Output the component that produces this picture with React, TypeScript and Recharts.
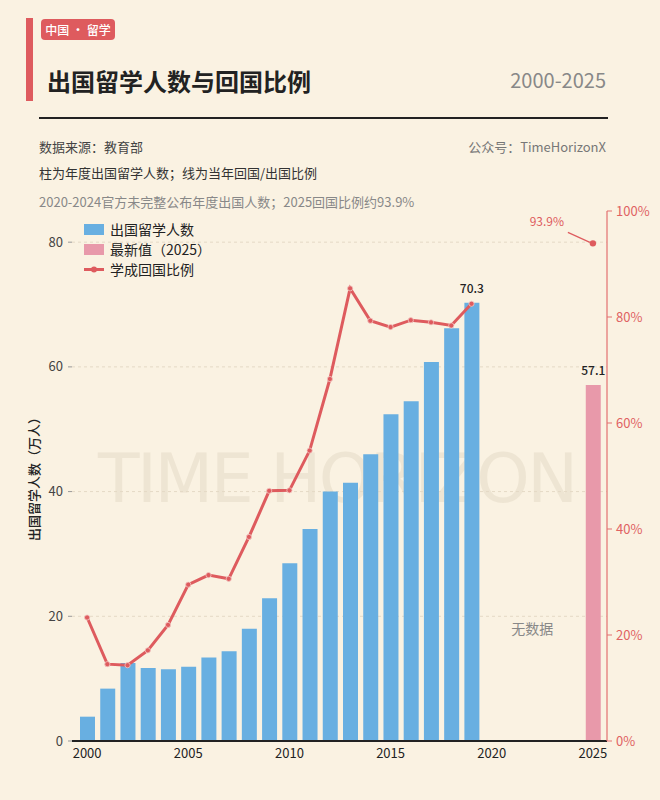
import { Bar, CartesianGrid, ComposedChart, LabelList, Legend, Line, ReferenceDot, XAxis, YAxis } from 'recharts';

// 年份（类目）
const years = [
  '2000', '2001', '2002', '2003', '2004', '2005', '2006', '2007', '2008', '2009', '2010', '2011', '2012',
  '2013', '2014', '2015', '2016', '2017', '2018', '2019', '2020', '2021', '2022', '2023', '2024', '2025',
];

// 出国留学人数（万人），2020-2024 无数据
const students = [
  3.9, 8.4, 12.5, 11.7, 11.5, 11.9, 13.4, 14.4, 18.0, 22.9, 28.5, 34.0, 40.0,
  41.4, 46.0, 52.4, 54.5, 60.8, 66.2, 70.3, null, null, null, null, null, null,
];

// 最新值（2025）
const latest = [
  null, null, null, null, null, null, null, null, null, null, null, null, null,
  null, null, null, null, null, null, null, null, null, null, null, null, 57.1,
];

// 学成回国比例（%）
const returnRatio = [
  23.3, 14.5, 14.3, 17.1, 21.9, 29.5, 31.3, 30.6, 38.5, 47.2, 47.3, 54.8, 68.3,
  85.4, 79.3, 78.1, 79.4, 79.0, 78.4, 82.5, null, null, null, null, null, 93.9,
];

const xTicks = ['2000', '2005', '2010', '2015', '2020', '2025'];
const leftTicks = [0, 20, 40, 60, 80];
const rightTicks = [0, 20, 40, 60, 80, 100];

const BG = '#faf2e2';
const BLUE = '#68afe1';
const PINK = '#e899aa';
const RED = '#de5b5e';
const FONT = '"Noto Sans CJK SC", "Noto Sans", sans-serif';

const data = years.map((year, i) => ({
  year,
  students: students[i],
  latest: latest[i],
  ratio: returnRatio[i],
}));

const legendItems = [
  { label: '出国留学人数', kind: 'bar', color: BLUE },
  { label: '最新值（2025）', kind: 'bar', color: PINK },
  { label: '学成回国比例', kind: 'line', color: RED },
];

function ChartLegend() {
  return (
    <div style={{ fontFamily: FONT }}>
      {legendItems.map((item) => (
        <div key={item.label} style={{ display: 'flex', alignItems: 'center', height: 20 }}>
          {item.kind === 'bar' ? (
            <span style={{ width: 20, height: 11, background: item.color, display: 'inline-block' }} />
          ) : (
            <svg width={20} height={11}>
              <line x1={0} y1={5.5} x2={20} y2={5.5} stroke={item.color} strokeWidth={3} />
              <circle cx={10} cy={5.5} r={3} fill={item.color} />
            </svg>
          )}
          <span style={{ marginLeft: 6, fontSize: 14, color: '#222' }}>{item.label}</span>
        </div>
      ))}
    </div>
  );
}

function valueText(x: number, y: number, width: number, value: any) {
  return (
    <text x={x + width / 2} y={y - 10} textAnchor="middle" fontSize={12} fontWeight={500} fill="#222">
      {value}
    </text>
  );
}

// 只标最后一个有数据的年份
function StudentsLabel(props: any) {
  const { x, y, width, value } = props;
  if (value == null || value !== students[19]) return null;
  return valueText(x, y, width, value);
}

function LatestLabel(props: any) {
  const { x, y, width, value } = props;
  if (value == null) return null;
  return valueText(x, y, width, value);
}

function LatestRatioLabel(props: any) {
  const { x, y, value, index } = props;
  if (value == null || years[index] !== '2025') return null;
  return (
    <g>
      <line x1={x - 25} y1={y - 11} x2={x - 3} y2={y - 1} stroke={RED} strokeWidth={1.2} />
      <text x={x - 46} y={y - 17} textAnchor="middle" fontSize={12} fill={RED}>
        {value}%
      </text>
    </g>
  );
}

function RatioDot(props: any) {
  const { cx, cy, index, value } = props;
  if (value == null || cx == null || cy == null) return null;
  const last = years[index] === '2025';
  return <circle key={index} cx={cx} cy={cy} r={last ? 3.2 : 2.6} fill={RED} stroke="#f3c9c4" strokeWidth={last ? 0 : 0.8} />;
}

export default function App() {
  return (
    <div
      style={{
        position: 'absolute',
        left: 0,
        top: 0,
        width: 660,
        height: 800,
        background: BG,
        fontFamily: FONT,
        overflow: 'hidden',
      }}
    >
      {/* 头部 */}
      <div style={{ position: 'absolute', left: 26, top: 18, width: 7, height: 83, background: RED }} />
      <div
        style={{
          position: 'absolute',
          left: 41,
          top: 19,
          width: 74,
          height: 21,
          borderRadius: 4,
          background: RED,
          color: '#fff',
          fontSize: 12,
          fontWeight: 500,
          lineHeight: '21px',
          textAlign: 'center',
        }}
      >
        中国 · 留学
      </div>
      <div style={{ position: 'absolute', left: 47, top: 67, fontSize: 24, fontWeight: 700, color: '#222', lineHeight: '28px' }}>
        出国留学人数与回国比例
      </div>
      <div style={{ position: 'absolute', right: 54, top: 66, fontSize: 20, color: '#888', lineHeight: '28px' }}>2000-2025</div>
      <div style={{ position: 'absolute', left: 39, top: 117, width: 569, height: 2, background: '#222' }} />
      <div style={{ position: 'absolute', left: 39, top: 137, fontSize: 13, color: '#444', lineHeight: '20px' }}>数据来源：教育部</div>
      <div style={{ position: 'absolute', right: 54, top: 137, fontSize: 13, color: '#777', lineHeight: '20px' }}>
        公众号：TimeHorizonX
      </div>
      <div style={{ position: 'absolute', left: 39, top: 163, fontSize: 13, color: '#333', lineHeight: '20px' }}>
        柱为年度出国留学人数；线为当年回国/出国比例
      </div>
      <div style={{ position: 'absolute', left: 39, top: 192, fontSize: 13, color: '#888', lineHeight: '20px' }}>
        2020-2024官方未完整公布年度出国人数；2025回国比例约93.9%
      </div>

      {/* 水印 */}
      <svg width={660} height={800} style={{ position: 'absolute', left: 0, top: 0 }}>
        <text
          x={338}
          y={502}
          textAnchor="middle"
          fontSize={68}
          textLength={480}
          lengthAdjust="spacing"
          fill="#eee5d3"
          fontFamily='"DejaVu Sans", sans-serif'
        >
          TIME HORIZON
        </text>
      </svg>

      <div style={{ position: 'absolute', left: 0, top: 0 }}>
        <ComposedChart width={660} height={800} data={data} margin={{ top: 211, right: 3, bottom: 29, left: 0 }}>
          <CartesianGrid yAxisId="left" vertical={false} syncWithTicks stroke="#e4d9c5" strokeDasharray="3 3" />
          <XAxis
            dataKey="year"
            ticks={xTicks}
            interval={0}
            padding={{ left: 5, right: 4 }}
            height={30}
            tickLine={false}
            tickSize={6}
            tickMargin={2}
            axisLine={{ stroke: '#222', strokeWidth: 2 }}
            tick={{ fill: '#222', fontSize: 13 }}
          />
          <YAxis
            yAxisId="left"
            width={72}
            domain={[0, 85]}
            ticks={leftTicks}
            axisLine={false}
            tickSize={4}
            tickMargin={5}
            tickLine={{ stroke: '#999' }}
            tick={{ fill: '#444', fontSize: 13 }}
            label={{
              value: '出国留学人数（万人）',
              content: ({ viewBox }: any) => {
                const cx = viewBox.x + 33;
                const cy = viewBox.y + viewBox.height / 2;
                return (
                  <text
                    x={cx}
                    y={cy}
                    transform={`rotate(-90 ${cx} ${cy})`}
                    textAnchor="middle"
                    dominantBaseline="central"
                    fontSize={13}
                    fontWeight={500}
                    fill="#222"
                  >
                    出国留学人数（万人）
                  </text>
                );
              },
            }}
          />
          <YAxis
            yAxisId="right"
            orientation="right"
            width={50}
            domain={[0, 100]}
            ticks={rightTicks}
            tickFormatter={(v) => `${v}%`}
            axisLine={{ stroke: '#e37070', strokeWidth: 1.2 }}
            tickSize={5}
            tickMargin={4}
            tickLine={{ stroke: '#e37070' }}
            tick={{ fill: '#e06262', fontSize: 13 }}
          />
          <Legend
            layout="vertical"
            align="center"
            verticalAlign="middle"
            wrapperStyle={{ top: 219, left: 84, width: 200, height: 60 }}
            content={() => <ChartLegend />}
          />
          <Bar yAxisId="left" dataKey="students" stackId="s" fill={BLUE} barSize={15} isAnimationActive={false}>
            <LabelList dataKey="students" content={StudentsLabel} />
          </Bar>
          <Bar yAxisId="left" dataKey="latest" stackId="s" fill={PINK} barSize={15} isAnimationActive={false}>
            <LabelList dataKey="latest" content={LatestLabel} />
          </Bar>
          <Line
            yAxisId="right"
            dataKey="ratio"
            type="linear"
            stroke={RED}
            strokeWidth={3}
            dot={RatioDot}
            activeDot={false}
            connectNulls={false}
            isAnimationActive={false}
          >
            <LabelList dataKey="ratio" content={LatestRatioLabel} />
          </Line>
          <ReferenceDot
            yAxisId="left"
            x="2022"
            y={18}
            r={1}
            fill="none"
            stroke="none"
            label={{ value: '无数据', position: 'center', fill: '#888', fontSize: 14 }}
          />
        </ComposedChart>
      </div>
    </div>
  );
}
